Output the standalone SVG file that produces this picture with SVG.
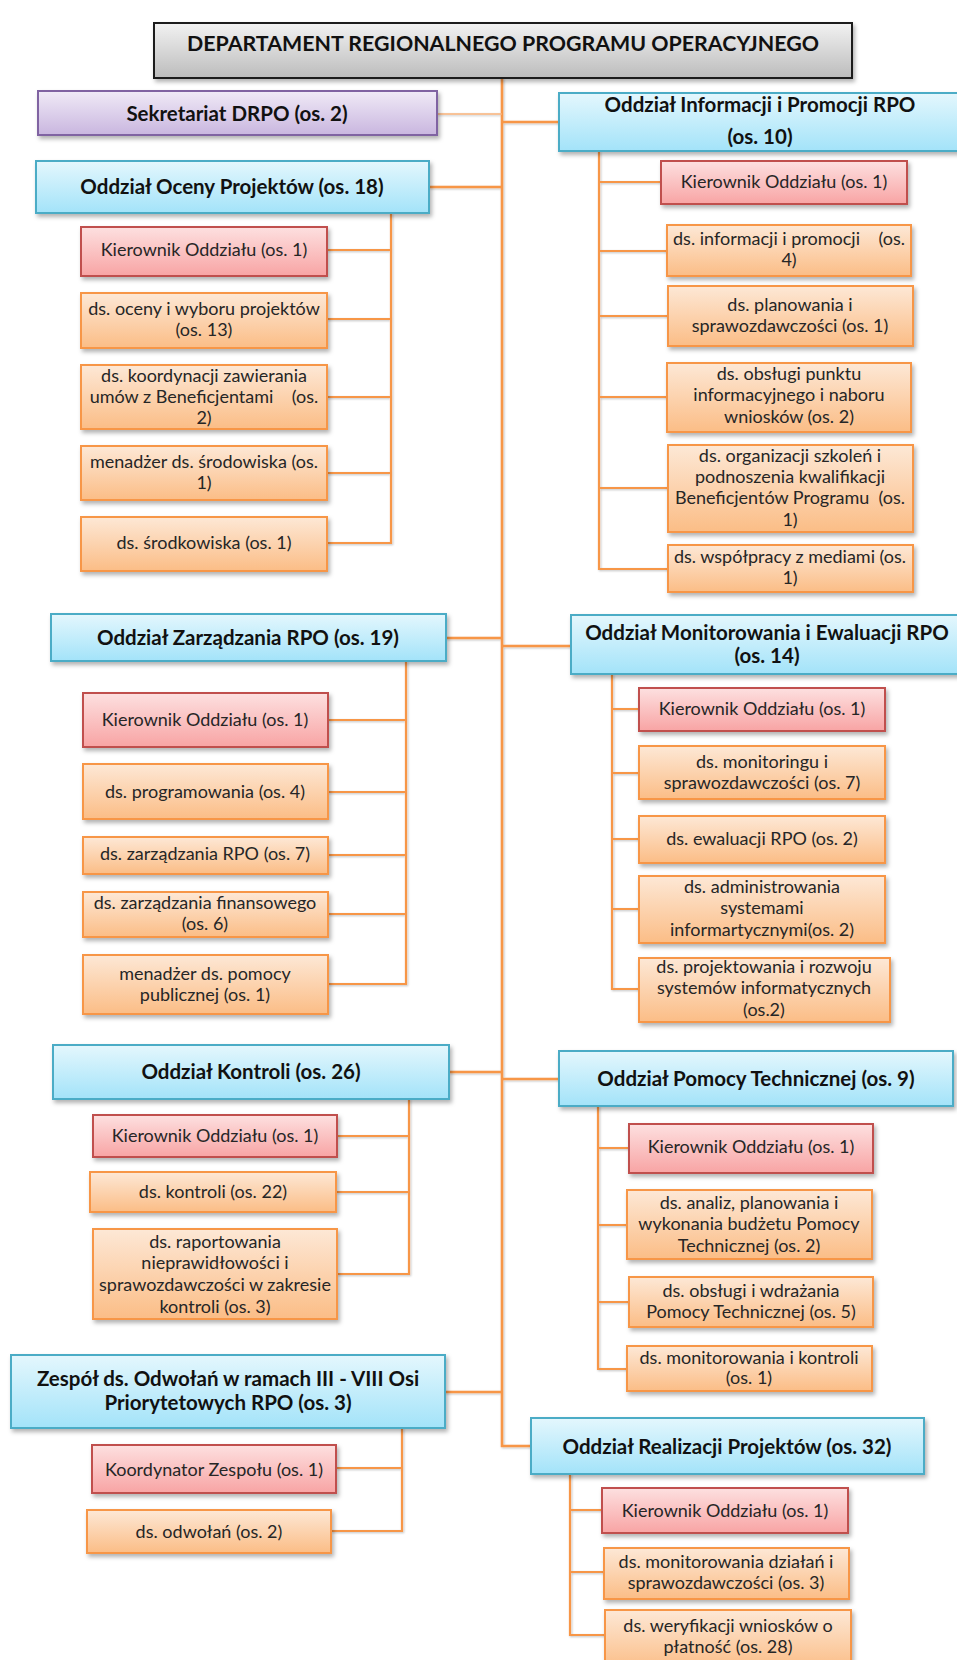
<svg xmlns="http://www.w3.org/2000/svg" width="957" height="1660" viewBox="0 0 957 1660">
  <defs>
    <linearGradient id="gGray" x1="0" y1="0" x2="0" y2="1">
      <stop offset="0" stop-color="#f2f2f2"/>
      <stop offset="1" stop-color="#bcbcbc"/>
    </linearGradient>
    <linearGradient id="gBlue" x1="0" y1="0" x2="0" y2="1">
      <stop offset="0" stop-color="#e4f7fd"/>
      <stop offset="1" stop-color="#a3e3f9"/>
    </linearGradient>
    <linearGradient id="gRed" x1="0" y1="0" x2="0" y2="1">
      <stop offset="0" stop-color="#fde0e0"/>
      <stop offset="1" stop-color="#f8a4a4"/>
    </linearGradient>
    <linearGradient id="gOrange" x1="0" y1="0" x2="0" y2="1">
      <stop offset="0" stop-color="#fde8d6"/>
      <stop offset="1" stop-color="#fbbd86"/>
    </linearGradient>
    <linearGradient id="gPurple" x1="0" y1="0" x2="0" y2="1">
      <stop offset="0" stop-color="#f0eaf7"/>
      <stop offset="1" stop-color="#c9b6df"/>
    </linearGradient>
    <filter id="shadow" x="-5%" y="-20%" width="115%" height="160%">
      <feDropShadow dx="2" dy="3" stdDeviation="2" flood-color="#000" flood-opacity="0.3"/>
    </filter>
    <filter id="lineShadow" x="-20%" y="-20%" width="140%" height="140%">
      <feDropShadow dx="1" dy="1" stdDeviation="1" flood-color="#000" flood-opacity="0.25"/>
    </filter>
  </defs>
  <style>
    .node rect { stroke-width: 2; filter: url(#shadow); }
    .top rect { fill: url(#gGray); stroke: #1a1a1a; }
    .blue rect { fill: url(#gBlue); stroke: #4bacc6; }
    .red rect { fill: url(#gRed); stroke: #c0504d; }
    .orange rect { fill: url(#gOrange); stroke: #f79646; }
    .purple rect { fill: url(#gPurple); stroke: #8064a2; }
    text { font-family: Lato, "Open Sans", "Liberation Sans", sans-serif; text-anchor: middle; white-space: pre; }
    .t { font-size: 18px; fill: #262626; }
    .h { font-size: 20.5px; font-weight: 700; fill: #111; }
    .title { font-size: 21px; font-weight: 700; fill: #111; }
    .conn path { fill: none; stroke: #f79646; stroke-width: 2.2; }
    .conn .trunk { stroke-width: 2.6; }
    .conn .thin { stroke: #f9b27a; stroke-width: 1.5; }
  </style>

  <!-- connectors -->
  <g id="connectors" class="conn" filter="url(#lineShadow)">
    <!-- trunk -->
    <path class="trunk" d="M502 78 V1446 H531"/>
    <path class="thin" d="M437 114 H502"/>
    <path class="trunk" d="M429 187 H502"/>
    <path class="trunk" d="M446 638 H502"/>
    <path class="trunk" d="M449 1072 H502"/>
    <path class="trunk" d="M445 1392 H502"/>
    <path class="trunk" d="M502 122 H559"/>
    <path class="trunk" d="M502 646 H571"/>
    <path class="trunk" d="M502 1079 H559"/>
    <!-- Oddział Oceny Projektów -->
    <path d="M391 213 V543 H327 M391 250 H327 M391 319 H327 M391 397 H327 M391 473 H327"/>
    <!-- Oddział Informacji i Promocji -->
    <path d="M599 151 V569 H668 M599 182 H661 M599 251 H667 M599 316 H668 M599 397 H667 M599 488 H668"/>
    <!-- Oddział Zarządzania -->
    <path d="M406 661 V984 H328 M406 720 H328 M406 792 H328 M406 855 H328 M406 914 H328"/>
    <!-- Oddział Monitorowania i Ewaluacji -->
    <path d="M612 674 V989 H639 M612 709 H639 M612 773 H639 M612 839 H639 M612 909 H639"/>
    <!-- Oddział Kontroli -->
    <path d="M409 1099 V1274 H337 M409 1136 H337 M409 1192 H336"/>
    <!-- Oddział Pomocy Technicznej -->
    <path d="M598 1106 V1369 H627 M598 1148 H629 M598 1225 H627 M598 1302 H629"/>
    <!-- Zespół ds. Odwołań -->
    <path d="M402 1428 V1531 H331 M402 1468 H336"/>
    <!-- Oddział Realizacji Projektów -->
    <path d="M570 1474 V1635 H605 M570 1510 H602 M570 1572 H604"/>
  </g>

  <!-- head of department -->
  <g id="departament" class="node top">
    <rect x="154" y="23" width="698" height="55"/>
    <text class="title" x="503" y="51" textLength="632" lengthAdjust="spacingAndGlyphs">DEPARTAMENT REGIONALNEGO PROGRAMU OPERACYJNEGO</text>
  </g>

  <g id="sekretariat" class="node purple">
    <rect x="38" y="91" width="399" height="44"/>
    <text class="h" x="237" y="121">Sekretariat DRPO (os. 2)</text>
  </g>

  <!-- Oddział Oceny Projektów -->
  <g id="ocena" class="node blue">
    <rect x="36" y="161" width="393" height="52"/>
    <text class="h" x="232" y="194">Oddział Oceny Projektów (os. 18)</text>
  </g>
  <g id="ocena-kierownik" class="node red">
    <rect x="81" y="227" width="246" height="49"/>
    <text class="t" x="204" y="256">Kierownik Oddziału (os. 1)</text>
  </g>
  <g id="ocena-wybor" class="node orange">
    <rect x="81" y="293" width="246" height="55"/>
    <text class="t" x="204" y="315">ds. oceny i wyboru projektów</text>
    <text class="t" x="204" y="336">(os. 13)</text>
  </g>
  <g id="ocena-umowy" class="node orange">
    <rect x="81" y="365" width="246" height="64"/>
    <text class="t" x="204" y="382">ds. koordynacji zawierania</text>
    <text class="t" x="204" y="403">umów z Beneficjentami    (os.</text>
    <text class="t" x="204" y="424">2)</text>
  </g>
  <g id="ocena-srodowisko" class="node orange">
    <rect x="81" y="446" width="246" height="54"/>
    <text class="t" x="204" y="468">menadżer ds. środowiska (os.</text>
    <text class="t" x="204" y="489">1)</text>
  </g>
  <g id="ocena-srodkowisko" class="node orange">
    <rect x="81" y="517" width="246" height="54"/>
    <text class="t" x="204" y="549">ds. środkowiska (os. 1)</text>
  </g>

  <!-- Oddział Informacji i Promocji RPO -->
  <g id="informacja" class="node blue">
    <rect x="559" y="93" width="402" height="58"/>
    <text class="h" x="760" y="112">Oddział Informacji i Promocji RPO</text>
    <text class="h" x="760" y="144">(os. 10)</text>
  </g>
  <g id="informacja-kierownik" class="node red">
    <rect x="661" y="161" width="246" height="43"/>
    <text class="t" x="784" y="188">Kierownik Oddziału (os. 1)</text>
  </g>
  <g id="informacja-promocja" class="node orange">
    <rect x="667" y="225" width="244" height="51"/>
    <text class="t" x="789" y="245">ds. informacji i promocji    (os.</text>
    <text class="t" x="789" y="266">4)</text>
  </g>
  <g id="informacja-planowanie" class="node orange">
    <rect x="668" y="286" width="245" height="60"/>
    <text class="t" x="790" y="311">ds. planowania i</text>
    <text class="t" x="790" y="332">sprawozdawczości (os. 1)</text>
  </g>
  <g id="informacja-punkt" class="node orange">
    <rect x="667" y="363" width="244" height="69"/>
    <text class="t" x="789" y="380">ds. obsługi punktu</text>
    <text class="t" x="789" y="401">informacyjnego i naboru</text>
    <text class="t" x="789" y="423">wniosków (os. 2)</text>
  </g>
  <g id="informacja-szkolenia" class="node orange">
    <rect x="668" y="445" width="245" height="87"/>
    <text class="t" x="790" y="462">ds. organizacji szkoleń i</text>
    <text class="t" x="790" y="483">podnoszenia kwalifikacji</text>
    <text class="t" x="790" y="504">Beneficjentów Programu  (os.</text>
    <text class="t" x="790" y="526">1)</text>
  </g>
  <g id="informacja-media" class="node orange">
    <rect x="668" y="545" width="245" height="47"/>
    <text class="t" x="790" y="563">ds. współpracy z mediami (os.</text>
    <text class="t" x="790" y="584">1)</text>
  </g>

  <!-- Oddział Zarządzania RPO -->
  <g id="zarzadzanie" class="node blue">
    <rect x="51" y="614" width="395" height="47"/>
    <text class="h" x="248" y="645">Oddział Zarządzania RPO (os. 19)</text>
  </g>
  <g id="zarzadzanie-kierownik" class="node red">
    <rect x="83" y="693" width="245" height="54"/>
    <text class="t" x="205" y="726">Kierownik Oddziału (os. 1)</text>
  </g>
  <g id="zarzadzanie-programowanie" class="node orange">
    <rect x="83" y="764" width="245" height="55"/>
    <text class="t" x="205" y="798">ds. programowania (os. 4)</text>
  </g>
  <g id="zarzadzanie-rpo" class="node orange">
    <rect x="83" y="837" width="245" height="37"/>
    <text class="t" x="205" y="860">ds. zarządzania RPO (os. 7)</text>
  </g>
  <g id="zarzadzanie-finanse" class="node orange">
    <rect x="83" y="892" width="245" height="45"/>
    <text class="t" x="205" y="909">ds. zarządzania finansowego</text>
    <text class="t" x="205" y="930">(os. 6)</text>
  </g>
  <g id="zarzadzanie-pomoc" class="node orange">
    <rect x="83" y="955" width="245" height="59"/>
    <text class="t" x="205" y="980">menadżer ds. pomocy</text>
    <text class="t" x="205" y="1001">publicznej (os. 1)</text>
  </g>

  <!-- Oddział Monitorowania i Ewaluacji RPO -->
  <g id="monitorowanie" class="node blue">
    <rect x="571" y="615" width="392" height="59"/>
    <text class="h" x="767" y="640">Oddział Monitorowania i Ewaluacji RPO</text>
    <text class="h" x="767" y="663">(os. 14)</text>
  </g>
  <g id="monitorowanie-kierownik" class="node red">
    <rect x="639" y="688" width="246" height="43"/>
    <text class="t" x="762" y="715">Kierownik Oddziału (os. 1)</text>
  </g>
  <g id="monitorowanie-monitoring" class="node orange">
    <rect x="639" y="746" width="246" height="53"/>
    <text class="t" x="762" y="768">ds. monitoringu i</text>
    <text class="t" x="762" y="789">sprawozdawczości (os. 7)</text>
  </g>
  <g id="monitorowanie-ewaluacja" class="node orange">
    <rect x="639" y="816" width="246" height="47"/>
    <text class="t" x="762" y="845">ds. ewaluacji RPO (os. 2)</text>
  </g>
  <g id="monitorowanie-systemy" class="node orange">
    <rect x="639" y="876" width="246" height="67"/>
    <text class="t" x="762" y="893">ds. administrowania</text>
    <text class="t" x="762" y="914">systemami</text>
    <text class="t" x="762" y="936">informartycznymi(os. 2)</text>
  </g>
  <g id="monitorowanie-rozwoj" class="node orange">
    <rect x="639" y="958" width="251" height="64"/>
    <text class="t" x="764" y="973">ds. projektowania i rozwoju</text>
    <text class="t" x="764" y="994">systemów informatycznych</text>
    <text class="t" x="764" y="1016">(os.2)</text>
  </g>

  <!-- Oddział Kontroli -->
  <g id="kontrola" class="node blue">
    <rect x="53" y="1045" width="396" height="54"/>
    <text class="h" x="251" y="1079">Oddział Kontroli (os. 26)</text>
  </g>
  <g id="kontrola-kierownik" class="node red">
    <rect x="93" y="1115" width="244" height="42"/>
    <text class="t" x="215" y="1142">Kierownik Oddziału (os. 1)</text>
  </g>
  <g id="kontrola-kontrole" class="node orange">
    <rect x="90" y="1172" width="246" height="40"/>
    <text class="t" x="213" y="1198">ds. kontroli (os. 22)</text>
  </g>
  <g id="kontrola-raportowanie" class="node orange">
    <rect x="93" y="1229" width="244" height="90"/>
    <text class="t" x="215" y="1248">ds. raportowania</text>
    <text class="t" x="215" y="1269">nieprawidłowości i</text>
    <text class="t" x="215" y="1291">sprawozdawczości w zakresie</text>
    <text class="t" x="215" y="1313">kontroli (os. 3)</text>
  </g>

  <!-- Oddział Pomocy Technicznej -->
  <g id="pomoc" class="node blue">
    <rect x="559" y="1051" width="394" height="55"/>
    <text class="h" x="756" y="1086">Oddział Pomocy Technicznej (os. 9)</text>
  </g>
  <g id="pomoc-kierownik" class="node red">
    <rect x="629" y="1124" width="244" height="49"/>
    <text class="t" x="751" y="1153">Kierownik Oddziału (os. 1)</text>
  </g>
  <g id="pomoc-budzet" class="node orange">
    <rect x="627" y="1190" width="245" height="69"/>
    <text class="t" x="749" y="1209">ds. analiz, planowania i</text>
    <text class="t" x="749" y="1230">wykonania budżetu Pomocy</text>
    <text class="t" x="749" y="1252">Technicznej (os. 2)</text>
  </g>
  <g id="pomoc-wdrazanie" class="node orange">
    <rect x="629" y="1277" width="244" height="50"/>
    <text class="t" x="751" y="1297">ds. obsługi i wdrażania</text>
    <text class="t" x="751" y="1318">Pomocy Technicznej (os. 5)</text>
  </g>
  <g id="pomoc-kontrola" class="node orange">
    <rect x="627" y="1346" width="245" height="45"/>
    <text class="t" x="749" y="1364">ds. monitorowania i kontroli</text>
    <text class="t" x="749" y="1384">(os. 1)</text>
  </g>

  <!-- Zespół ds. Odwołań -->
  <g id="odwolania" class="node blue">
    <rect x="11" y="1355" width="434" height="73"/>
    <text class="h" x="228" y="1386">Zespół ds. Odwołań w ramach III - VIII Osi</text>
    <text class="h" x="228" y="1410">Priorytetowych RPO (os. 3)</text>
  </g>
  <g id="odwolania-koordynator" class="node red">
    <rect x="92" y="1445" width="244" height="48"/>
    <text class="t" x="214" y="1476">Koordynator Zespołu (os. 1)</text>
  </g>
  <g id="odwolania-ds" class="node orange">
    <rect x="87" y="1510" width="244" height="43"/>
    <text class="t" x="209" y="1538">ds. odwołań (os. 2)</text>
  </g>

  <!-- Oddział Realizacji Projektów -->
  <g id="realizacja" class="node blue">
    <rect x="531" y="1418" width="393" height="56"/>
    <text class="h" x="727" y="1454">Oddział Realizacji Projektów (os. 32)</text>
  </g>
  <g id="realizacja-kierownik" class="node red">
    <rect x="602" y="1488" width="246" height="45"/>
    <text class="t" x="725" y="1517">Kierownik Oddziału (os. 1)</text>
  </g>
  <g id="realizacja-monitorowanie" class="node orange">
    <rect x="604" y="1548" width="245" height="51"/>
    <text class="t" x="726" y="1568">ds. monitorowania działań i</text>
    <text class="t" x="726" y="1589">sprawozdawczości (os. 3)</text>
  </g>
  <g id="realizacja-platnosci" class="node orange">
    <rect x="605" y="1610" width="246" height="60"/>
    <text class="t" x="728" y="1632">ds. weryfikacji wniosków o</text>
    <text class="t" x="728" y="1653">płatność (os. 28)</text>
  </g>
</svg>
